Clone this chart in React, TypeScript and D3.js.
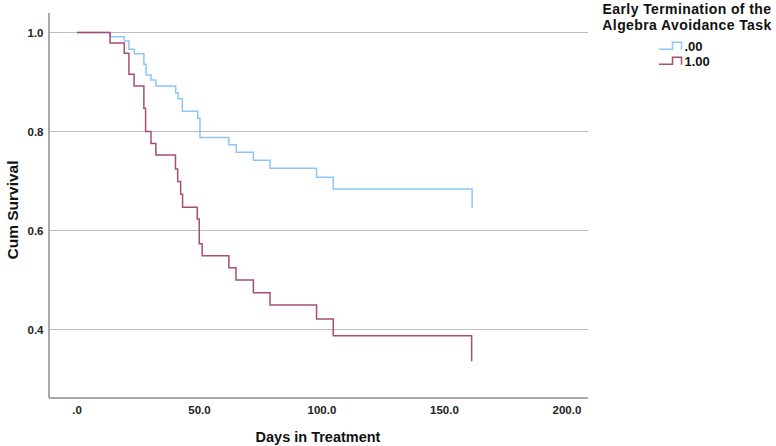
import React from "react";
import * as d3 from "d3";

const groupLabels = [".00", "1.00"];
const colors = ["#8fc5f8", "#a94d74"];

const timesA = [0, 13.5, 19.3, 21.2, 23.4, 27.3, 28.2, 30.2, 32.2, 40.3, 41.3, 43, 49.3, 50.2, 62, 65, 72, 78.8, 97.8, 104.6, 161.3];
const survA = [1, 0.9915, 0.983, 0.966, 0.957, 0.936, 0.914, 0.904, 0.892, 0.878, 0.866, 0.841, 0.827, 0.788, 0.773, 0.758, 0.742, 0.726, 0.7075, 0.684, 0.646];

const timesB = [0, 13.5, 19.3, 21.2, 23.3, 27.3, 28, 30.2, 32.2, 40.2, 41.1, 42.3, 43.1, 49.1, 49.9, 51.1, 62, 64.9, 72, 78.8, 97.8, 104.6, 161.1];
const survB = [1, 0.979, 0.958, 0.9156, 0.892, 0.847, 0.8, 0.776, 0.7525, 0.724, 0.699, 0.673, 0.647, 0.623, 0.573, 0.549, 0.525, 0.5, 0.474, 0.4495, 0.421, 0.3875, 0.336];

const xTicks = [0, 50, 100, 150, 200];
const xTickLabels = [".0", "50.0", "100.0", "150.0", "200.0"];
const yTicks = [0.4, 0.6, 0.8, 1.0];
const yTickLabels = ["0.4", "0.6", "0.8", "1.0"];

const W = 776;
const H = 446;
const left = 49;
const right = 588;
const top = 13;
const bottom = 398;

export default function App() {
  const x = d3.scaleLinear().domain([-11.43, 208.6]).range([left, right]);
  const y = d3.scaleLinear().domain([1.0, 0.4]).range([32.5, 329.5]);
  const line = d3
    .line<[number, number]>()
    .x((d) => x(d[0]))
    .y((d) => y(d[1]))
    .curve(d3.curveStepAfter);
  const series = [
    timesA.map((t, i) => [t, survA[i]] as [number, number]),
    timesB.map((t, i) => [t, survB[i]] as [number, number]),
  ];
  const font = "'Liberation Sans', Arial, sans-serif";
  return (
    <svg
      width={W}
      height={H}
      style={{ position: "absolute", left: 0, top: 0, background: "#fff" }}
      fontFamily={font}
    >
      {yTicks.map((v) => (
        <line key={v} x1={left} x2={right} y1={y(v)} y2={y(v)} stroke="#bdbdbd" strokeWidth={1.2} />
      ))}
      <line x1={left} x2={left} y1={top} y2={bottom} stroke="#8c8c8c" strokeWidth={1.5} />
      <line x1={left} x2={right} y1={bottom} y2={bottom} stroke="#8c8c8c" strokeWidth={1.5} />
      {yTicks.map((v, i) => (
        <text key={v} x={43.5} y={y(v)} dy="0.35em" textAnchor="end" fontSize={11.5} fontWeight="bold" fill="#222">
          {yTickLabels[i]}
        </text>
      ))}
      {xTicks.map((v, i) => (
        <text key={v} x={x(v)} y={410} dy="0.35em" textAnchor="middle" fontSize={11.5} fontWeight="bold" fill="#222">
          {xTickLabels[i]}
        </text>
      ))}
      <text x={318} y={437} dy="0.35em" textAnchor="middle" fontSize={14.5} fontWeight="bold" fill="#111">
        Days in Treatment
      </text>
      <text
        transform={`translate(13,210) rotate(-90)`}
        dy="0.35em"
        textAnchor="middle"
        fontSize={15.5}
        fontWeight="bold"
        fill="#111"
      >
        Cum Survival
      </text>
      {series.map((s, i) => (
        <path key={i} d={line(s) || ""} fill="none" stroke={colors[i]} strokeWidth={1.5} />
      ))}
      <text x={687} y={9} dy="0.35em" textAnchor="middle" fontSize={14} letterSpacing={0.4} fontWeight="bold" fill="#111">
        Early Termination of the
      </text>
      <text x={687} y={25} dy="0.35em" textAnchor="middle" fontSize={14} letterSpacing={0.4} fontWeight="bold" fill="#111">
        Algebra Avoidance Task
      </text>
      {groupLabels.map((g, i) => {
        const cy = 46.7 + i * 15;
        return (
          <g key={g}>
            <path
              d={`M659,${cy + 2.5}H672.5V${cy - 4.5}H681.5V${cy + 3}`}
              fill="none"
              stroke={colors[i]}
              strokeWidth={1.5}
            />
            <text x={684.5} y={cy} dy="0.35em" fontSize={13} fontWeight="bold" fill="#111">
              {g}
            </text>
          </g>
        );
      })}
    </svg>
  );
}
